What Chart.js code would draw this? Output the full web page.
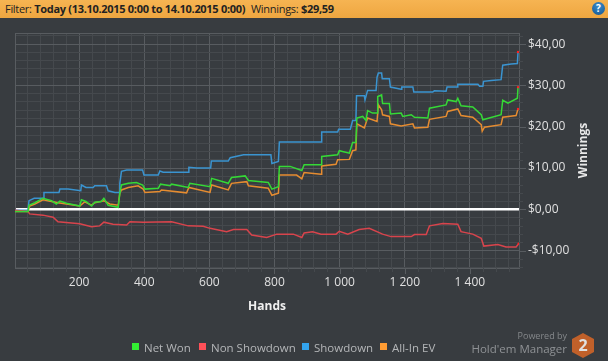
<!DOCTYPE html>
<html lang="en">
<head>
    <meta charset="UTF-8">
    <title>Winnings graph</title>
    <script src="https://cdn.jsdelivr.net/npm/chart.js"></script>
    <style>
        body {
            margin: 0;
            width: 608px;
            height: 361px;
            overflow: hidden;
            background-color: #383c40;
            font-family: "Open Sans", sans-serif;
            position: relative;
        }
        canvas { position: absolute; left: 0; top: 0; }
        #filter {
            position: absolute;
            left: 0; top: 0;
            width: 608px;
            height: 18px;
            line-height: 18px;
            padding-left: 5px;
            box-sizing: border-box;
            background: linear-gradient(#f6b452, #eea640);
            color: #222;
            font-size: 11px;
            letter-spacing: -0.3px;
            white-space: pre;
        }
        #filter em { position: absolute; left: 251px; font-style: normal; }
        #help {
            position: absolute;
            left: 592px; top: 2px;
            width: 13px; height: 13px;
            border-radius: 50%;
            background: radial-gradient(circle at 50% 30%, #3d8ccb, #12558f);
            color: #fff;
            font: bold 10px/13px "Open Sans", sans-serif;
            text-align: center;
        }
        #legend {
            position: absolute;
            top: 340px;
            left: 0;
            height: 16px;
            font-size: 11.5px;
            line-height: 16px;
            color: #b4b6b8;
        }
        #legend span { position: absolute; white-space: pre; }
        #legend i { position: absolute; top: 3px; width: 7px; height: 7px; }
        #powered {
            position: absolute;
            right: 41px; top: 329px;
            text-align: right;
            color: #85888b;
            font-size: 9px;
            line-height: 13px;
        }
        #powered div { font-size: 11.5px; line-height: 14px; color: #8f9295; }
        #logo { position: absolute; left: 571px; top: 333px; }
    </style>
</head>
<body>
    <canvas id="graph" width="608" height="361"></canvas>
    <div id="filter">Filter: <b>Today (13.10.2015 0:00 to 14.10.2015 0:00)</b><em>Winnings: <b>$29,59</b></em></div>
    <div id="help">?</div>
    <div id="legend"></div>
    <div id="powered">Powered by<div>Hold'em Manager</div></div>
    <svg id="logo" width="24" height="25" viewBox="0 0 24 25">
        <polygon points="12,0 23,6 23,19 12,25 1,19 1,6" fill="#c0602a"/>
        <text x="12" y="18" text-anchor="middle" font-family="Open Sans" font-weight="bold" font-size="16" fill="#e0e0e0">2</text>
    </svg>

    <script>
        const seriesNames = ['Net Won', 'Non Showdown', 'Showdown', 'All-In EV'];
        const lineColors = ['#35d936', '#d8444c', '#3a94d0', '#e68c30'];
        const legendColors = ['#33ee33', '#ff5058', '#33a4ee', '#ff9c33'];
        const legendLefts = [132, 199, 302, 380];

        const netWonHands = [3, 43, 46, 64, 89, 115, 130, 141, 161, 202, 207, 221, 238, 248, 268, 276, 289, 320, 325, 330, 351, 376, 395, 402, 443, 450, 479, 484, 535, 540, 602, 607, 658, 668, 710, 720, 781, 792, 812, 815, 848, 884, 891, 943, 945, 994, 999, 1030, 1040, 1050, 1053, 1071, 1081, 1086, 1101, 1115, 1117, 1129, 1132, 1153, 1156, 1189, 1194, 1220, 1230, 1271, 1276, 1327, 1332, 1358, 1363, 1373, 1409, 1435, 1440, 1496, 1501, 1517, 1546, 1548];
        const netWonValues = [-0.5, -0.5, 1, 1.6, 2.7, 2.1, 1.3, 2, 1.5, 0.8, 2.3, 1.9, 0.8, 1.7, 1.9, 2.7, 1, 0.5, 3.9, 5.9, 6.3, 6.5, 5.9, 4.9, 5.1, 6.1, 5.7, 6.1, 5.3, 6.3, 5.5, 7.5, 6.3, 7.7, 8.1, 7, 6.5, 4.9, 5.5, 10.4, 10.4, 9.4, 10.8, 10.8, 12.8, 13.2, 14.2, 13.6, 16.2, 16.2, 22.1, 22.5, 21.5, 23.9, 23.3, 23.3, 27.3, 27.7, 25.6, 25.6, 23.1, 23.3, 22.5, 22.9, 22.3, 22.1, 24.5, 25.3, 26.5, 26.1, 26.9, 25.1, 24.8, 22.9, 21.7, 22.9, 26.4, 25.7, 26.9, 29.6];

        const nonShowdownHands = [3, 43, 48, 89, 120, 135, 202, 238, 263, 276, 304, 346, 356, 397, 484, 535, 581, 602, 653, 674, 715, 730, 776, 807, 858, 884, 891, 917, 943, 989, 999, 1025, 1060, 1091, 1132, 1158, 1220, 1230, 1266, 1276, 1317, 1363, 1373, 1409, 1435, 1443, 1486, 1511, 1542, 1550];
        const nonShowdownValues = [-0.2, -0.5, -1.1, -1.4, -1.9, -3, -3.5, -4.2, -4, -3.1, -3.6, -3.8, -3, -3.1, -3, -4, -4.1, -4.6, -5.4, -4.9, -4.9, -6.2, -6.8, -6, -6, -6.8, -5.7, -5.4, -6, -6, -5.3, -6, -4.9, -4.6, -6, -6.6, -6.6, -6.1, -6.1, -4, -3.4, -3.6, -5.4, -6, -7, -8.9, -8.5, -9.1, -9.1, -8.3];

        const showdownHands = [3, 43, 46, 62, 89, 92, 138, 141, 166, 205, 207, 221, 243, 248, 284, 289, 310, 323, 325, 330, 346, 395, 399, 443, 448, 458, 535, 537, 561, 604, 606, 658, 664, 705, 789, 792, 812, 815, 891, 943, 945, 994, 997, 1033, 1040, 1050, 1052, 1076, 1078, 1086, 1112, 1115, 1119, 1129, 1131, 1153, 1156, 1189, 1191, 1225, 1228, 1286, 1291, 1327, 1330, 1361, 1363, 1425, 1430, 1440, 1442, 1466, 1496, 1501, 1527, 1546, 1548];
        const showdownValues = [-0.2, -0.2, 2.1, 2.7, 2.7, 4.1, 4.1, 4.9, 4.9, 4.5, 5.9, 5.3, 5.3, 5.7, 5.7, 4.5, 4.1, 4.1, 6.3, 9.2, 9.5, 9.5, 8.3, 8.3, 9.3, 9, 9, 10.2, 10, 10, 11.7, 11.7, 12.5, 13.2, 13.2, 11.1, 11.6, 16.3, 16.3, 16.3, 18.7, 18.7, 19.4, 19.4, 21.5, 21.5, 27.5, 27.5, 26.5, 28.8, 28.8, 32, 33, 33, 31.6, 31.6, 29.6, 29.1, 29.6, 29.6, 28.4, 28.4, 28.7, 28.6, 29.6, 29.6, 30.3, 30.3, 29.8, 29.8, 31, 31.2, 31.4, 34.9, 35.2, 35.3, 38.1];

        const allInHands = [3, 43, 48, 64, 89, 115, 135, 202, 217, 238, 248, 276, 294, 320, 325, 330, 351, 381, 397, 402, 448, 453, 530, 537, 602, 607, 658, 668, 715, 720, 781, 792, 812, 815, 868, 884, 891, 943, 945, 989, 994, 1030, 1040, 1050, 1053, 1076, 1086, 1115, 1119, 1129, 1132, 1153, 1156, 1189, 1225, 1230, 1271, 1276, 1327, 1332, 1363, 1373, 1409, 1435, 1438, 1445, 1496, 1501, 1542, 1548];
        const allInValues = [-0.5, -0.5, 0.8, 1.3, 2.3, 1.9, 1.6, 0.8, 1.8, 1, 1.6, 2.1, 1.3, 1, 3.9, 4.7, 5.3, 5.7, 4.9, 4.1, 4.3, 4.7, 4, 5.3, 4.1, 5.9, 4.7, 6.3, 6.7, 5.7, 5.1, 3.4, 3.9, 8.3, 8.3, 7.4, 8.9, 8.5, 10.5, 10.9, 12, 12.1, 14.2, 14.4, 20.7, 19.7, 22.1, 21.3, 25.3, 24.1, 22.9, 22.5, 20.7, 20.2, 20.7, 19.7, 19.9, 21.8, 22.5, 23.7, 24.3, 22.7, 22.3, 20.5, 18.9, 19.9, 20.5, 22.3, 22.7, 24.3];

        const xLabelValues = [200, 400, 600, 800, 1000, 1200, 1400];
        const xLabels = ['200', '400', '600', '800', '1 000', '1 200', '1 400'];
        const yLabelValues = [-10, 0, 10, 20, 30, 40];
        const yLabels = ['-$10,00', '$0,00', '$10,00', '$20,00', '$30,00', '$40,00'];

        const zip = (xs, ys) => xs.map((x, i) => ({ x: x, y: ys[i] }));
        const seriesPoints = [
            zip(netWonHands, netWonValues),
            zip(nonShowdownHands, nonShowdownValues),
            zip(showdownHands, showdownValues),
            zip(allInHands, allInValues)
        ];

        // HTML legend, it does not sit centred under the plot
        const legend = document.getElementById('legend');
        seriesNames.forEach((name, i) => {
            legend.innerHTML += `<i style="left:${legendLefts[i]}px;background:${legendColors[i]}"></i>` +
                `<span style="left:${legendLefts[i] + 12}px">${name}</span>`;
        });

        const minorGrid = '#45494d';
        const majorGrid = '#585c60';

        function stepTicks(scale, from, to, step) {
            const ticks = [];
            for (let v = from; v <= to; v += step) ticks.push({ value: v });
            scale.ticks = ticks;
        }

        // frame around the plot, tick marks with two lengths, rotated y title
        const framePlugin = {
            id: 'frame',
            beforeDatasetsDraw(chart) {
                const { ctx, chartArea: a, scales } = chart;
                ctx.save();
                ctx.lineWidth = 1;
                ctx.strokeStyle = majorGrid;
                ctx.strokeRect(a.left + 0.5, a.top + 0.5, a.right - a.left, a.bottom - a.top);
                scales.x.ticks.forEach(t => {
                    const px = Math.round(scales.x.getPixelForValue(t.value)) + 0.5;
                    const major = xLabelValues.includes(t.value);
                    ctx.beginPath();
                    ctx.strokeStyle = major ? majorGrid : minorGrid;
                    ctx.moveTo(px, a.bottom);
                    ctx.lineTo(px, a.bottom + (major ? 6 : 4));
                    ctx.stroke();
                });
                scales.y.ticks.forEach(t => {
                    const py = Math.round(scales.y.getPixelForValue(t.value)) + 0.5;
                    const major = yLabelValues.includes(t.value);
                    ctx.beginPath();
                    ctx.strokeStyle = major ? majorGrid : minorGrid;
                    ctx.moveTo(a.right, py);
                    ctx.lineTo(a.right + (major ? 7 : 4), py);
                    ctx.stroke();
                });
                ctx.restore();
            },
            afterDraw(chart) {
                const { ctx, chartArea: a } = chart;
                ctx.save();
                ctx.translate(584, (a.top + a.bottom) / 2);
                ctx.rotate(-Math.PI / 2);
                ctx.font = 'bold 12px "Open Sans"';
                ctx.fillStyle = '#e8e8e8';
                ctx.textAlign = 'center';
                ctx.textBaseline = 'middle';
                ctx.fillText('Winnings', 0, 0);
                ctx.restore();
            }
        };

        new Chart(document.getElementById('graph'), {
            type: 'line',
            data: {
                datasets: seriesNames.map((name, i) => ({
                    label: name,
                    data: seriesPoints[i],
                    borderColor: lineColors[i],
                    borderWidth: 1.5,
                    tension: 0,
                    fill: false,
                    // small red dot on the last hand of each line
                    pointRadius: ctx => ctx.dataIndex === seriesPoints[i].length - 1 ? 1.2 : 0,
                    pointBackgroundColor: '#ff2020',
                    pointBorderWidth: 0
                }))
            },
            options: {
                responsive: false,
                animation: false,
                layout: { padding: { left: 15, top: 33, right: 0, bottom: 47 } },
                plugins: { legend: { display: false }, tooltip: { enabled: false } },
                scales: {
                    x: {
                        type: 'linear',
                        min: 3,
                        max: 1551,
                        afterBuildTicks: s => stepTicks(s, 40, 1520, 40),
                        afterFit: s => { s.height = 46; },
                        border: { display: false },
                        grid: {
                            drawTicks: false,
                            lineWidth: 1,
                            color: c => xLabelValues.includes(c.tick.value) ? majorGrid : minorGrid
                        },
                        ticks: {
                            autoSkip: false,
                            maxRotation: 0,
                            padding: 7,
                            color: '#e0e0e0',
                            font: { family: 'Open Sans', size: 12 },
                            callback: v => {
                                const i = xLabelValues.indexOf(v);
                                return i < 0 ? '' : xLabels[i];
                            }
                        },
                        title: {
                            display: true,
                            text: 'Hands',
                            color: '#f0f0f0',
                            padding: 0,
                            font: { family: 'Open Sans', size: 12, weight: 'bold' }
                        }
                    },
                    y: {
                        position: 'right',
                        min: -14.2,
                        max: 42.7,
                        afterBuildTicks: s => stepTicks(s, -14, 42, 2),
                        afterFit: s => { s.width = 89; },
                        border: { display: false },
                        grid: {
                            drawTicks: false,
                            lineWidth: c => c.tick.value === 0 ? 2.5 : 1,
                            color: c => {
                                if (c.tick.value === 0) return '#ffffff';
                                return yLabelValues.includes(c.tick.value) ? majorGrid : minorGrid;
                            }
                        },
                        ticks: {
                            autoSkip: false,
                            padding: 9,
                            color: '#e0e0e0',
                            font: { family: 'Open Sans', size: 12 },
                            callback: v => {
                                const i = yLabelValues.indexOf(v);
                                return i < 0 ? '' : yLabels[i];
                            }
                        }
                    }
                }
            },
            plugins: [framePlugin]
        });
    </script>
</body>
</html>
